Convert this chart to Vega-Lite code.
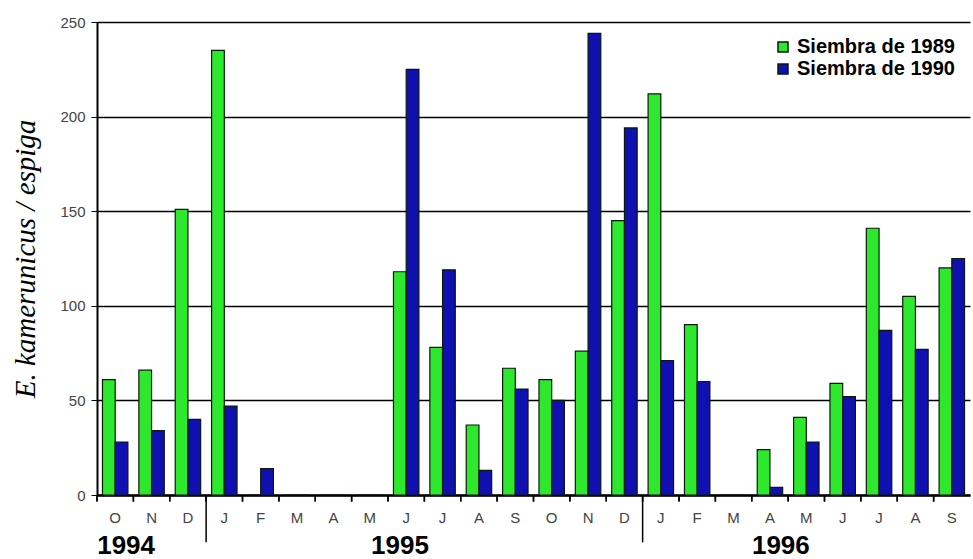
{
  "$schema": "https://vega.github.io/schema/vega-lite/v6.json",
  "width": 873,
  "height": 473,
  "padding": {"left": 11, "top": 15, "right": 3, "bottom": 5},
  "background": "white",
  "config": {"view": {"stroke": null}},
  "datasets": {
    "main": [
      {"key": "1994-10", "serie": "Siembra de 1989", "value": 61},
      {"key": "1994-10", "serie": "Siembra de 1990", "value": 28},
      {"key": "1994-11", "serie": "Siembra de 1989", "value": 66},
      {"key": "1994-11", "serie": "Siembra de 1990", "value": 34},
      {"key": "1994-12", "serie": "Siembra de 1989", "value": 151},
      {"key": "1994-12", "serie": "Siembra de 1990", "value": 40},
      {"key": "1995-01", "serie": "Siembra de 1989", "value": 235},
      {"key": "1995-01", "serie": "Siembra de 1990", "value": 47},
      {"key": "1995-02", "serie": "Siembra de 1989", "value": 0},
      {"key": "1995-02", "serie": "Siembra de 1990", "value": 14},
      {"key": "1995-03", "serie": "Siembra de 1989", "value": 0},
      {"key": "1995-03", "serie": "Siembra de 1990", "value": 0},
      {"key": "1995-04", "serie": "Siembra de 1989", "value": 0},
      {"key": "1995-04", "serie": "Siembra de 1990", "value": 0},
      {"key": "1995-05", "serie": "Siembra de 1989", "value": 0},
      {"key": "1995-05", "serie": "Siembra de 1990", "value": 0},
      {"key": "1995-06", "serie": "Siembra de 1989", "value": 118},
      {"key": "1995-06", "serie": "Siembra de 1990", "value": 225},
      {"key": "1995-07", "serie": "Siembra de 1989", "value": 78},
      {"key": "1995-07", "serie": "Siembra de 1990", "value": 119},
      {"key": "1995-08", "serie": "Siembra de 1989", "value": 37},
      {"key": "1995-08", "serie": "Siembra de 1990", "value": 13},
      {"key": "1995-09", "serie": "Siembra de 1989", "value": 67},
      {"key": "1995-09", "serie": "Siembra de 1990", "value": 56},
      {"key": "1995-10", "serie": "Siembra de 1989", "value": 61},
      {"key": "1995-10", "serie": "Siembra de 1990", "value": 50},
      {"key": "1995-11", "serie": "Siembra de 1989", "value": 76},
      {"key": "1995-11", "serie": "Siembra de 1990", "value": 244},
      {"key": "1995-12", "serie": "Siembra de 1989", "value": 145},
      {"key": "1995-12", "serie": "Siembra de 1990", "value": 194},
      {"key": "1996-01", "serie": "Siembra de 1989", "value": 212},
      {"key": "1996-01", "serie": "Siembra de 1990", "value": 71},
      {"key": "1996-02", "serie": "Siembra de 1989", "value": 90},
      {"key": "1996-02", "serie": "Siembra de 1990", "value": 60},
      {"key": "1996-03", "serie": "Siembra de 1989", "value": 0},
      {"key": "1996-03", "serie": "Siembra de 1990", "value": 0},
      {"key": "1996-04", "serie": "Siembra de 1989", "value": 24},
      {"key": "1996-04", "serie": "Siembra de 1990", "value": 4},
      {"key": "1996-05", "serie": "Siembra de 1989", "value": 41},
      {"key": "1996-05", "serie": "Siembra de 1990", "value": 28},
      {"key": "1996-06", "serie": "Siembra de 1989", "value": 59},
      {"key": "1996-06", "serie": "Siembra de 1990", "value": 52},
      {"key": "1996-07", "serie": "Siembra de 1989", "value": 141},
      {"key": "1996-07", "serie": "Siembra de 1990", "value": 87},
      {"key": "1996-08", "serie": "Siembra de 1989", "value": 105},
      {"key": "1996-08", "serie": "Siembra de 1990", "value": 77},
      {"key": "1996-09", "serie": "Siembra de 1989", "value": 120},
      {"key": "1996-09", "serie": "Siembra de 1990", "value": 125}
    ],
    "seps": [{"key": "1995-01"}, {"key": "1996-01"}],
    "yearsA": [{"key": "1994-10", "label": "1994"}, {"key": "1996-04", "label": "1996"}],
    "yearsB": [{"key": "1995-06", "label": "1995"}]
  },
  "layer": [
    {
      "data": {"name": "main"},
      "mark": {"type": "bar", "stroke": "#0a1a0a", "strokeWidth": 1.2},
      "encoding": {
        "x": {
          "field": "key", "type": "ordinal",
          "scale": {
            "domain": ["1994-10", "1994-11", "1994-12", "1995-01", "1995-02", "1995-03", "1995-04", "1995-05", "1995-06", "1995-07", "1995-08", "1995-09", "1995-10", "1995-11", "1995-12", "1996-01", "1996-02", "1996-03", "1996-04", "1996-05", "1996-06", "1996-07", "1996-08", "1996-09"],
            "paddingInner": 0, "paddingOuter": 0
          },
          "axis": {
            "title": null,
            "labelAngle": 0,
            "labelExpr": "substring('JFMAMJJASOND', toNumber(slice(datum.value, 5)) - 1, toNumber(slice(datum.value, 5)))",
            "labelFont": "Liberation Sans",
            "labelFontSize": 15,
            "labelColor": "#444444",
            "labelPadding": 10,
            "tickColor": "transparent",
            "tickWidth": 1.5,
            "tickSize": 5,
            "domainColor": "black",
            "domainWidth": 2.5,
            "grid": false
          }
        },
        "xOffset": {"field": "serie", "type": "nominal", "scale": {"paddingOuter": 0.43}},
        "y": {
          "field": "value", "type": "quantitative",
          "scale": {"domain": [0, 250], "nice": false},
          "axis": {
            "values": [0, 50, 100, 150, 200, 250],
            "title": "E. kamerunicus / espiga",
            "titleFont": "Liberation Serif",
            "titleFontSize": 29,
            "titleFontStyle": "italic",
            "titleFontWeight": "normal",
            "titleColor": "black",
            "titlePadding": 19,
            "labelFont": "Liberation Sans",
            "labelFontSize": 15,
            "labelColor": "#444444",
            "labelPadding": 6,
            "tickSize": 6,
            "tickColor": "black",
            "domainColor": "black",
            "domainWidth": 2,
            "gridColor": "black",
            "gridOpacity": 1,
            "gridWidth": 1.3
          }
        },
        "color": {
          "field": "serie", "type": "nominal",
          "scale": {"domain": ["Siembra de 1989", "Siembra de 1990"], "range": ["#2ee82e", "#1010b0"]},
          "legend": {
            "title": null,
            "orient": "top-right",
            "offset": 15,
            "labelFont": "Liberation Sans",
            "labelFontSize": 20,
            "labelFontWeight": "bold",
            "labelColor": "black"
          }
        }
      }
    },
    {
      "data": {"name": "main"},
      "mark": {"type": "rule", "color": "black", "strokeWidth": 1.5},
      "encoding": {
        "x": {"field": "key", "type": "ordinal", "bandPosition": 0, "axis": {"title": null}},
        "y": {"datum": 0, "type": "quantitative"},
        "y2": {"datum": -3.5}
      }
    },
    {
      "data": {"name": "seps"},
      "mark": {"type": "rule", "color": "black", "strokeWidth": 1.5},
      "encoding": {
        "x": {"field": "key", "type": "ordinal", "bandPosition": 0, "axis": {"title": null}},
        "y": {"datum": 0, "type": "quantitative"},
        "y2": {"datum": -25}
      }
    },
    {
      "data": {"name": "yearsA"},
      "mark": {"type": "text", "font": "Liberation Sans", "fontSize": 26, "fontWeight": "bold", "align": "center", "baseline": "middle", "color": "black"},
      "encoding": {
        "x": {"field": "key", "type": "ordinal", "bandPosition": 0.8, "axis": {"title": null}},
        "y": {"datum": -27, "type": "quantitative"},
        "text": {"field": "label"}
      }
    },
    {
      "data": {"name": "yearsB"},
      "mark": {"type": "text", "font": "Liberation Sans", "fontSize": 26, "fontWeight": "bold", "align": "center", "baseline": "middle", "color": "black"},
      "encoding": {
        "x": {"field": "key", "type": "ordinal", "bandPosition": 0.33, "axis": {"title": null}},
        "y": {"datum": -27, "type": "quantitative"},
        "text": {"field": "label"}
      }
    }
  ]
}
